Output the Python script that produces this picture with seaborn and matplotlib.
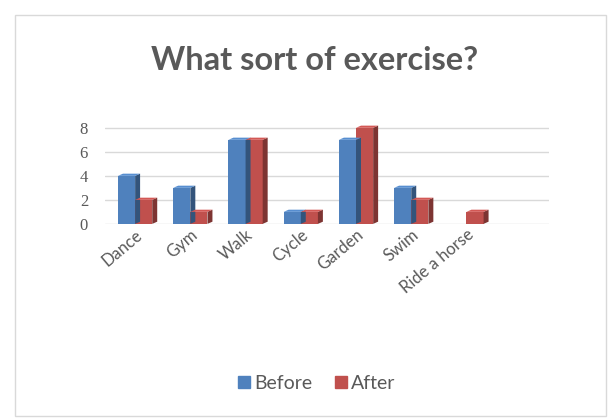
import numpy as np
import pandas as pd
import matplotlib
matplotlib.use('Agg')
import matplotlib.pyplot as plt
import matplotlib.patches as mpatches
import matplotlib.colors as mcolors
import seaborn as sns

# ── Dados ─────────────────────────────────────────────────────────────────────
atividades = ['Dance', 'Gym', 'Walk', 'Cycle', 'Garden', 'Swim', 'Ride a horse']
antes      = [4, 3, 7, 1, 7, 3, 0]
depois     = [2, 1, 7, 1, 8, 2, 1]
series     = ['Before', 'After']
cores      = {'Before': '#4F81BD', 'After': '#C0504D'}

df = pd.DataFrame({
    'atividade': atividades * 2,
    'valor': antes + depois,
    'serie': ['Before'] * len(antes) + ['After'] * len(depois),
})

sns.set_style('white')
plt.rcParams['font.family'] = ['Lato', 'DejaVu Sans']

fig = plt.figure(figsize=(6.09, 4.2), dpi=100)
ax = fig.add_axes([0.172, 0.467, 0.73, 0.243])

sns.barplot(data=df, x='atividade', y='valor', hue='serie', order=atividades,
            hue_order=series, palette=cores, width=0.62, gap=0, ax=ax,
            saturation=1, edgecolor='none', legend=False)

# ── Falso 3D: faces lateral e superior a partir das barras ───────────────────
dx, dy = 0.09, 0.18
for p in list(ax.patches):
    x0, y0 = p.get_x(), p.get_y()
    w, h = p.get_width(), p.get_height()
    if h <= 0:
        continue
    base = np.array(mcolors.to_rgb(p.get_facecolor()))
    lado = mpatches.Polygon([(x0 + w, y0), (x0 + w + dx, y0 + dy),
                             (x0 + w + dx, y0 + h + dy), (x0 + w, y0 + h)],
                            closed=True, facecolor=base * 0.65, edgecolor='none')
    topo = mpatches.Polygon([(x0, y0 + h), (x0 + dx, y0 + h + dy),
                             (x0 + w + dx, y0 + h + dy), (x0 + w, y0 + h)],
                            closed=True, facecolor=np.minimum(base * 1.1, 1),
                            edgecolor='none')
    ax.add_patch(lado)
    ax.add_patch(topo)

ax.set_xlim(-0.55, 7.5)
ax.set_ylim(0, 8.5)
ax.set_yticks([0, 2, 4, 6, 8])
ax.yaxis.grid(True, color='#d9d9d9', linewidth=1)
ax.set_axisbelow(True)
for s in ax.spines.values():
    s.set_visible(False)
ax.set_xlabel('')
ax.set_ylabel('')
ax.tick_params(axis='both', length=0, labelcolor='#595959')
ax.tick_params(axis='x', labelsize=12, pad=2)
ax.tick_params(axis='y', labelsize=12, pad=12)
for t in ax.get_yticklabels():
    t.set_family(['Liberation Serif', 'DejaVu Serif'])
plt.setp(ax.get_xticklabels(), rotation=40, ha='right', rotation_mode='anchor')

fig.text(0.517, 0.855, 'What sort of exercise?', ha='center', va='center',
         fontsize=23.5, fontweight='bold', color='#595959')

handles = [mpatches.Patch(color=cores[s], label=s) for s in series]
fig.legend(handles=handles, loc='center', bbox_to_anchor=(0.52, 0.088), ncol=2,
           frameon=False, fontsize=14, labelcolor='#595959', handlelength=0.6,
           handleheight=0.6, handletextpad=0.2, columnspacing=1.2)

fig.patches.append(mpatches.Rectangle((0.025, 0.01), 0.97, 0.955,
                                      transform=fig.transFigure, fill=False,
                                      edgecolor='#d9d9d9', linewidth=1))

plt.savefig('out.png', dpi=100)
